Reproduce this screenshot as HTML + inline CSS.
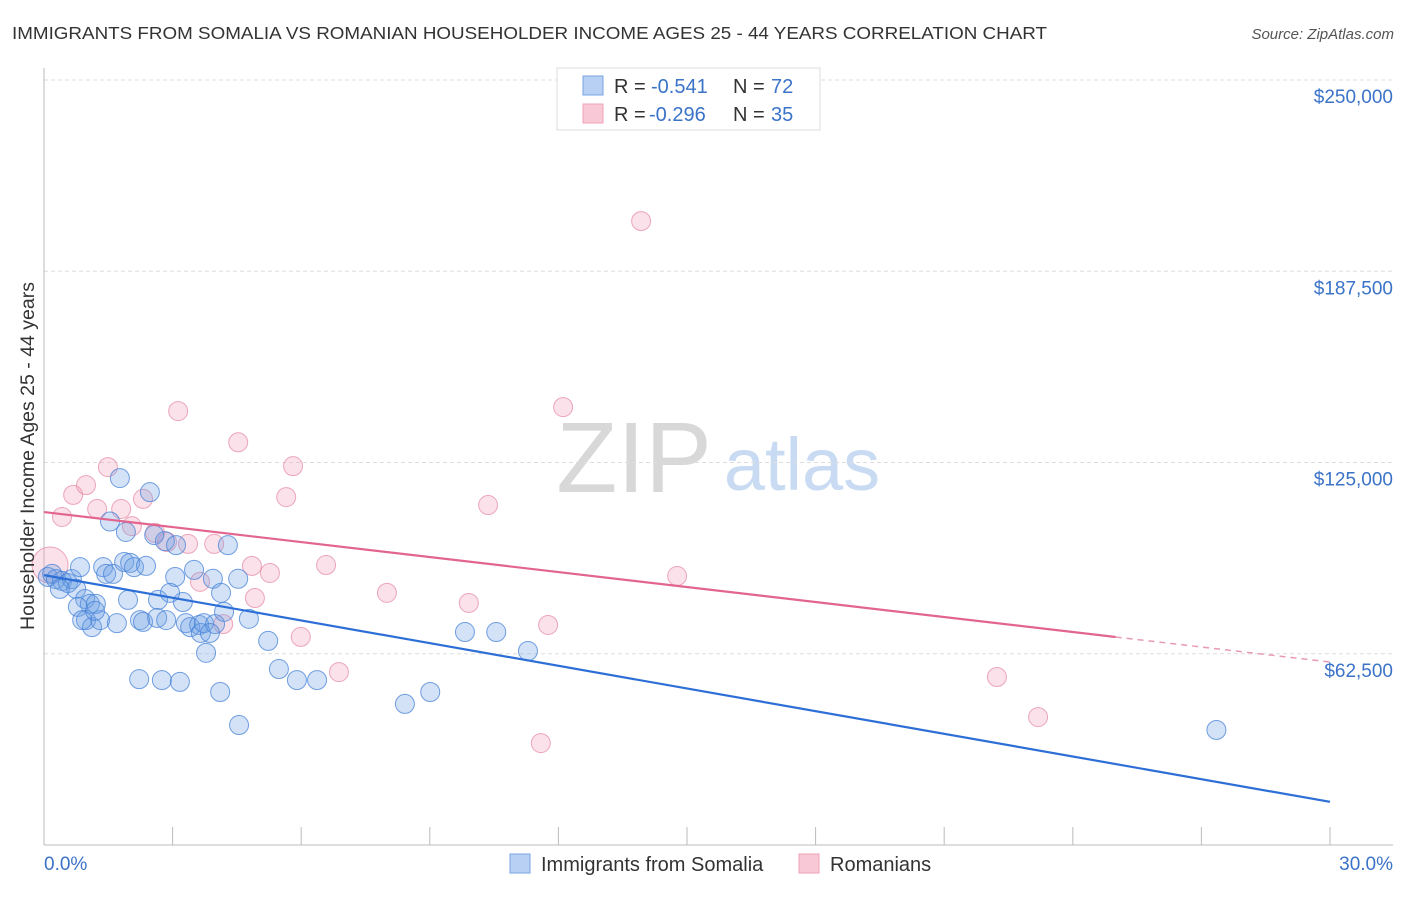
<!DOCTYPE html>
<html><head><meta charset="utf-8"><style>
body{margin:0;background:#fff;font-family:"Liberation Sans",sans-serif;}
svg text{font-family:"Liberation Sans",sans-serif;}
</style></head><body>
<svg id="c" width="1406" height="892" xmlns="http://www.w3.org/2000/svg">
<text x="12" y="39" font-size="17.5" fill="#333" textLength="1035" lengthAdjust="spacingAndGlyphs">IMMIGRANTS FROM SOMALIA VS ROMANIAN HOUSEHOLDER INCOME AGES 25 - 44 YEARS CORRELATION CHART</text>
<text x="1394" y="39" font-size="15" fill="#555" font-style="italic" text-anchor="end">Source: ZipAtlas.com</text>
<g>
<text x="634" y="492" font-size="100" fill="#d8d8d8" font-family="Liberation Serif" text-anchor="middle">ZIP</text>
<text x="802" y="490" font-size="74" fill="#c9dbf3" text-anchor="middle">atlas</text>
</g>
<g id="grid"></g><g id="axes"></g><g id="marks"></g><g id="trends"></g>
<g>
<rect x="557" y="68" width="263" height="62" fill="#fff" stroke="#ddd"/>
<rect x="583" y="76" width="20" height="19" fill="#b7d0f3" stroke="#7aa4e0"/>
<rect x="583" y="104" width="20" height="19" fill="#f9c8d6" stroke="#eea3b8"/>
<text x="614" y="93" font-size="20" fill="#333">R =</text>
<text x="651" y="93" font-size="20" fill="#3b73c8">-0.541</text>
<text x="733" y="93" font-size="20" fill="#333">N =</text>
<text x="771" y="93" font-size="20" fill="#3b73c8">72</text>
<text x="614" y="121" font-size="20" fill="#333">R =</text>
<text x="649" y="121" font-size="20" fill="#3b73c8">-0.296</text>
<text x="733" y="121" font-size="20" fill="#333">N =</text>
<text x="771" y="121" font-size="20" fill="#3b73c8">35</text>
</g>
<g>
<rect x="510" y="854" width="20" height="19" fill="#b7d0f3" stroke="#7aa4e0"/>
<text x="541" y="871" font-size="20" fill="#333">Immigrants from Somalia</text>
<rect x="799" y="854" width="20" height="19" fill="#f9c8d6" stroke="#eea3b8"/>
<text x="830" y="871" font-size="20" fill="#333">Romanians</text>
</g>
<text transform="translate(34,456) rotate(-90)" font-size="19.5" fill="#333" text-anchor="middle">Householder Income Ages 25 - 44 years</text>
</svg>
<script>
const yTicks=[62500,125000,187500,250000];
const yTickLabels=["$62,500","$125,000","$187,500","$250,000"];
const xTickLabels=["0.0%","30.0%"];
const somaliaX=[0.09,0.19,0.28,0.42,0.56,0.65,0.84,0.75,0.96,1.07,0.79,0.98,1.12,1.31,1.21,1.38,1.45,1.61,1.54,1.70,1.77,1.87,1.91,2.01,1.96,2.10,2.24,2.31,2.38,2.47,2.57,2.66,2.64,2.85,2.82,3.08,3.06,3.24,3.31,3.41,3.50,3.62,3.66,3.73,3.78,3.94,3.99,4.13,4.20,4.29,4.53,4.78,5.23,5.48,5.90,6.37,2.22,2.75,3.17,4.11,4.55,8.42,9.01,9.82,10.55,11.29,27.35,0.89,0.37,1.19,3.87,2.94];
const somaliaY=[87.6,88.6,86.9,86.3,85.6,86.9,90.8,83.7,80.4,78.8,77.8,73.5,71.2,73.5,78.8,90.8,88.6,88.6,105.7,72.5,119.9,92.5,102.3,92.2,80.1,90.8,73.5,72.9,91.2,115.3,101.3,80.1,74.2,73.5,99.3,98.0,87.6,79.4,72.5,71.2,89.9,71.9,69.3,72.5,62.8,87.0,72.2,82.4,76.2,98.0,87.0,73.9,66.7,57.5,53.9,53.9,54.2,53.9,53.3,50.0,39.2,46.1,50.0,69.6,69.6,63.4,37.6,73.5,83.7,76.5,69.3,82.4];
const romX=[0.14,0.42,0.68,0.98,1.24,1.49,1.80,2.05,2.31,2.59,2.87,3.13,3.36,3.64,3.97,4.18,4.53,4.85,4.92,5.27,5.65,5.81,5.99,6.58,6.88,8.00,9.91,10.36,11.59,11.76,12.11,13.93,14.77,22.23,23.19];
const romY=[91.5,107.2,114.4,117.6,109.8,123.5,109.8,104.2,113.1,102.0,99.0,141.8,98.4,86.0,98.4,72.2,131.6,91.2,80.7,88.9,113.7,123.8,68.0,91.5,56.5,82.4,79.1,111.1,33.3,71.9,143.1,203.9,87.9,54.9,41.8];
const romR=[18,9.5,9.5,9.5,9.5,9.5,9.5,9.5,9.5,9.5,9.5,9.5,9.5,9.5,9.5,9.5,9.5,9.5,9.5,9.5,9.5,9.5,9.5,9.5,9.5,9.5,9.5,9.5,9.5,9.5,9.5,9.5,9.5,9.5,9.5];
const somaliaTrend=[88200,14100];   // value at 0% and 30%
const romTrend=[108800,59800];      // value at 0% and 30%
const romSolidEnd=25;               // % where solid portion ends

const X0=44,X1=1330,Y0=845,Ytop=80;
const sx=v=>X0+v/30*(X1-X0);
const sy=v=>Y0-v/250000*(Y0-Ytop);
const NS="http://www.w3.org/2000/svg";
function mk(tag,attrs,parent){const e=document.createElementNS(NS,tag);for(const k in attrs)e.setAttribute(k,attrs[k]);parent.appendChild(e);return e;}
const grid=document.getElementById('grid'),axes=document.getElementById('axes'),marks=document.getElementById('marks'),trends=document.getElementById('trends');
yTicks.forEach((t,i)=>{
  const l=mk('line',{x1:X0,x2:1393,y1:sy(t),y2:sy(t),stroke:'#ddd','stroke-dasharray':'4,3'},grid);
  
  
  const tx=mk('text',{x:1393,y:sy(t)+23,'font-size':19,fill:'#3b73c8','text-anchor':'end'},axes);
  tx.textContent=yTickLabels[i];
  
  
});
const ya=mk('line',{x1:X0,x2:X0,y1:68,y2:Y0,stroke:'#bbb'},axes);


const xa=mk('line',{x1:X0,x2:1393,y1:Y0,y2:Y0,stroke:'#bbb'},axes);


for(let i=1;i<=10;i++){
  const t=mk('line',{x1:sx(i*3),x2:sx(i*3),y1:Y0,y2:Y0-18,stroke:'#bbb'},axes);
  
  
}
[[0,'start',X0],[1,'end',1393]].forEach(([i,a,x])=>{
  const tx=mk('text',{x:x,y:870,'font-size':19,fill:'#3b73c8','text-anchor':a},axes);
  tx.textContent=xTickLabels[i];
  
  
});
romX.forEach((v,i)=>{
  const c=mk('circle',{cx:sx(v),cy:sy(romY[i]*1000),r:romR[i],fill:'rgba(242,155,182,0.3)',stroke:'rgba(230,140,165,0.75)','stroke-width':1},marks);
  
  
});
somaliaX.forEach((v,i)=>{
  const c=mk('circle',{cx:sx(v),cy:sy(somaliaY[i]*1000),r:9.5,fill:'rgba(110,160,230,0.3)',stroke:'rgba(70,130,215,0.75)','stroke-width':1},marks);
  
  
});
const bl=mk('line',{x1:sx(0),y1:sy(somaliaTrend[0]),x2:sx(30),y2:sy(somaliaTrend[1]),stroke:'#2d6fd6','stroke-width':2.2},trends);


const rAt=p=>romTrend[0]+(romTrend[1]-romTrend[0])*p/30;
const pl=mk('line',{x1:sx(0),y1:sy(rAt(0)),x2:sx(romSolidEnd),y2:sy(rAt(romSolidEnd)),stroke:'#e2658f','stroke-width':2.2},trends);


const pd=mk('line',{x1:sx(romSolidEnd),y1:sy(rAt(romSolidEnd)),x2:sx(30),y2:sy(rAt(30)),stroke:'#e89ab4','stroke-width':1.5,'stroke-dasharray':'6,5'},trends);


</script>
</body></html>
